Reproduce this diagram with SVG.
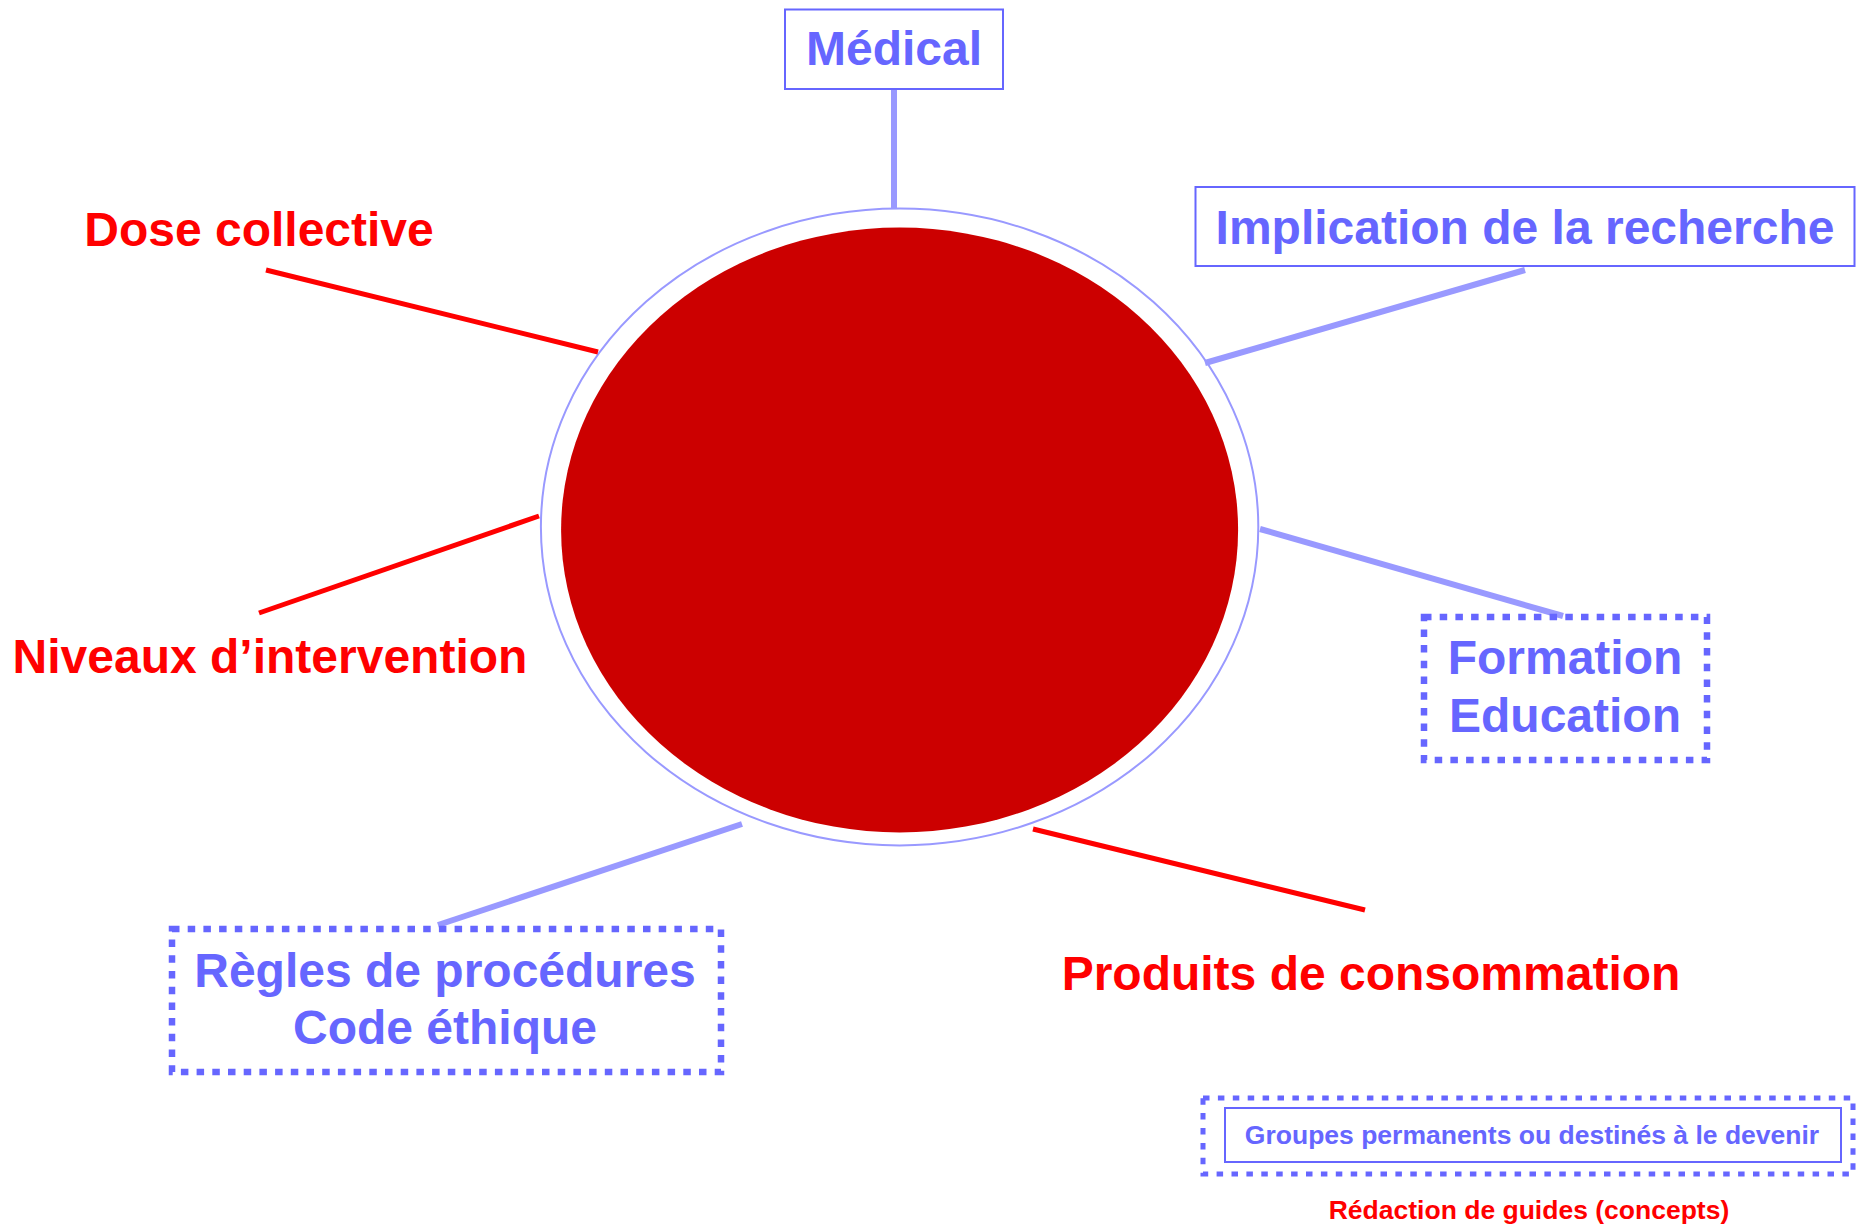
<svg xmlns="http://www.w3.org/2000/svg" width="1856" height="1224" viewBox="0 0 1856 1224">
<style>
.t{font-family:"Liberation Sans",Arial,sans-serif;font-weight:bold;font-size:48px;text-anchor:middle}
.b{fill:#6666FF}
.r{fill:#FF0000}
.box{fill:none;stroke:#6666FF;stroke-width:2}
.dot{fill:none;stroke:#6666FF;stroke-width:6.5;stroke-dasharray:7.5 8.2}
.lb{stroke:#9999FF;stroke-width:6;fill:none}
.lr{stroke:#FF0000;stroke-width:5;fill:none}
</style>
<rect width="1856" height="1224" fill="#FFFFFF"/>
<g id="center">
<ellipse cx="899.6" cy="527" rx="358.7" ry="318.4" fill="#FFFFFF" stroke="#9999FF" stroke-width="2"/>
<ellipse cx="899.6" cy="530" rx="338.5" ry="302.4" fill="#CC0000"/>
</g>
<g id="connectors">
<line class="lb" x1="894" y1="89" x2="894" y2="208"/>
<line class="lr" x1="266" y1="270" x2="598" y2="352"/>
<line class="lr" x1="259" y1="613" x2="539" y2="516"/>
<line class="lb" x1="1205" y1="363" x2="1525" y2="270"/>
<line class="lb" x1="1260" y1="529" x2="1563" y2="616"/>
<line class="lb" x1="742" y1="824" x2="438" y2="925"/>
<line class="lr" x1="1033" y1="829" x2="1365" y2="910"/>
</g>
<g id="medical">
<rect class="box" x="785" y="9.5" width="218" height="79.5"/>
<text class="t b" x="894" y="65">Médical</text>
</g>
<g id="implication">
<rect class="box" x="1195.5" y="187" width="659" height="79"/>
<text class="t b" x="1525" y="244">Implication de la recherche</text>
</g>
<g id="dose">
<text class="t r" x="259" y="246">Dose collective</text>
</g>
<g id="niveaux">
<text class="t r" x="270" y="673">Niveaux d’intervention</text>
</g>
<g id="formation">
<rect class="dot" x="1424" y="617" width="283" height="143"/>
<text class="t b" x="1565" y="674">Formation</text>
<text class="t b" x="1565" y="732">Education</text>
</g>
<g id="regles">
<rect class="dot" x="172" y="929" width="549" height="143"/>
<text class="t b" x="445" y="987">Règles de procédures</text>
<text class="t b" x="445" y="1044">Code éthique</text>
</g>
<g id="produits">
<text class="t r" x="1371" y="990">Produits de consommation</text>
</g>
<g id="legend">
<rect fill="none" stroke="#6666FF" stroke-width="5" stroke-dasharray="6.5 8.4" x="1203" y="1098" width="650" height="76"/>
<rect class="box" x="1225" y="1108" width="616" height="54"/>
<text class="t b" x="1532" y="1144" style="font-size:26.5px">Groupes permanents ou destinés à le devenir</text>
<text class="t r" x="1529" y="1219" style="font-size:26.5px">Rédaction de guides (concepts)</text>
</g>
</svg>
